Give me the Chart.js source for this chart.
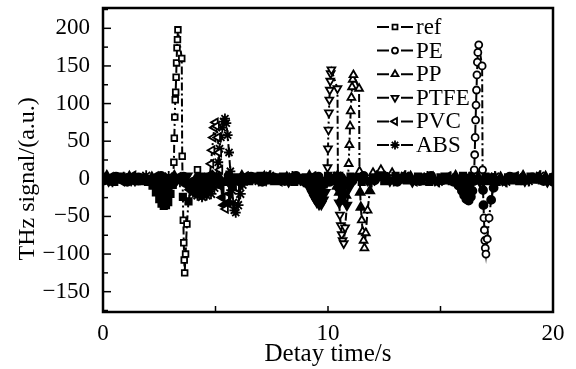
<!DOCTYPE html>
<html>
<head>
<meta charset="utf-8">
<script src="https://cdn.jsdelivr.net/npm/chart.js@4.4.0/dist/chart.umd.min.js"></script>
<style>
  html, body { margin: 0; padding: 0; background: #fff; }
  #wrap { width: 576px; height: 369px; }
</style>
</head>
<body>
<div id="wrap"><canvas id="thzChart" width="576" height="369"></canvas></div>
<script>
// series names, [delay time (s), THz signal (a.u.)]
const seriesNames = ['ref', 'PE', 'PP', 'PTFE', 'PVC', 'ABS'];

const refSignal = [
  [0,3],[0.5,-4],[1,2],[1.5,-3],[2,-4],[2.2,-9],[2.35,-18],[2.5,-27],[2.6,-33],[2.7,-36],[2.8,-35],[2.9,-31],[3,-20],[3.1,-8],
  [3.15,22],[3.17,54],[3.19,82],[3.21,105],[3.23,115],[3.25,135],[3.27,154],[3.29,174],[3.31,185],[3.33,198],
  [3.5,160],[3.52,30],[3.55,-24],[3.57,-55],[3.59,-85],[3.61,-108],[3.63,-125],[3.67,-100],[3.73,-60],[3.8,-30],[3.9,-12],[4.05,-4],[4.2,12],[4.35,3],[4.6,-3],
  [5,3],[5.5,-4],[6,2],[6.5,-3],[7,4],[7.5,-2],[8,3],[8.5,-4],[9,2],[9.5,-3],[10,4],[10.5,-2],[11,3],[11.5,-4],[12,2],[12.5,-3],
  [13,4],[13.5,-2],[14,3],[14.5,-4],[15,2],[15.5,-3],[16,4],[16.5,-2],[17,3],[17.5,-4],[18,2],[18.5,-3],[19,3],[19.5,-2],[20,2]
];
const peSignal = [
  [0.08,-2],[0.58,3],[1.08,-4],[1.58,2],[2.08,-3],[2.58,4],[3.08,-2],[3.58,3],[4.08,-4],[4.58,2],[5.08,-3],[5.58,4],[6.08,-2],[6.58,3],
  [7.08,-4],[7.58,2],[8.08,-3],[8.58,4],[9.08,-2],[9.58,3],[10.08,-4],[10.58,2],[11.08,-3],[11.58,4],[12.08,-2],[12.58,3],[13.08,-4],
  [13.58,2],[14.08,-3],[14.58,4],[15.08,-2],[15.58,-4],
  [15.8,-9],[15.95,-16],[16.05,-22],[16.15,-27],[16.25,-29],[16.35,-24],[16.42,-16],[16.48,-3],
  [16.5,12],[16.52,32],[16.54,55],[16.56,78],[16.58,98],[16.6,118],[16.62,138],[16.64,155],[16.66,168],[16.7,178],
  [16.85,150],[16.87,12],[16.89,-15],[16.91,-35],[16.93,-52],[16.95,-68],[16.97,-82],[16.99,-92],[17.02,-100],[17.08,-80],[17.16,-52],
  [17.25,-28],[17.36,-12],[17.5,-3],
  [18.08,3],[18.58,-2],[19.08,2],[19.58,-3],[20,2]
];
const ppSignal = [
  [0.17,4],[0.67,-2],[1.17,3],[1.67,-4],[2.17,2],[2.67,-3],[3.17,4],[3.67,-2],[4.17,3],[4.67,-4],[5.17,2],[5.67,-3],[6.17,4],[6.67,-2],
  [7.17,3],[7.67,-4],[8.17,2],[8.67,-3],[9.17,4],[9.67,-2],[10.17,-4],
  [10.4,-10],[10.5,-18],[10.6,-26],[10.7,-30],[10.8,-22],[10.88,-5],
  [10.92,20],[10.95,45],[10.98,70],[11.01,90],[11.04,108],[11.07,122],[11.1,132],[11.13,138],
  [11.38,120],[11.4,10],[11.43,-18],[11.46,-38],[11.5,-55],[11.54,-70],[11.58,-82],[11.62,-92],[11.68,-72],[11.76,-42],[11.86,-16],
  [12,8],[12.15,3],[12.35,12],[12.55,2],[12.85,8],[13.17,-2],
  [13.67,3],[14.17,-4],[14.67,2],[15.17,-3],[15.67,4],[16.17,-2],[16.67,3],[17.17,-4],[17.67,2],[18.17,-3],[18.67,4],[19.17,-2],[19.67,3],[20,-2]
];
const ptfeSignal = [
  [0.25,-3],[0.75,4],[1.25,-2],[1.75,3],[2.25,-4],[2.75,2],[3.25,-3],[3.75,4],[4.25,-2],[4.75,3],[5.25,-4],[5.75,2],[6.25,-3],[6.75,4],
  [7.25,-2],[7.75,3],[8.25,-4],[8.75,2],
  [9.1,-8],[9.2,-14],[9.3,-20],[9.4,-26],[9.5,-31],[9.6,-34],[9.7,-34],[9.8,-28],[9.88,-18],[9.95,-5],
  [9.98,15],[10,40],[10.02,65],[10.04,88],[10.06,105],[10.08,118],[10.1,130],[10.12,140],[10.15,145],
  [10.42,120],[10.44,5],[10.47,-15],[10.5,-32],[10.53,-48],[10.57,-62],[10.61,-74],[10.65,-82],[10.7,-86],[10.76,-65],[10.84,-35],
  [10.94,-12],[11.1,-3],
  [11.25,3],[11.75,-2],[12.25,4],[12.75,-3],[13.25,2],[13.75,-4],[14.25,3],[14.75,-2],[15.25,4],[15.75,-3],[16.25,2],[16.75,-4],
  [17.25,3],[17.75,-2],[18.25,4],[18.75,-3],[19.25,2],[19.75,-4]
];
const pvcSignal = [
  [0.33,2],[0.83,-3],[1.33,4],[1.83,-2],[2.33,3],[2.83,-4],[3.33,2],
  [3.7,-8],[3.9,-15],[4.1,-20],[4.3,-22],[4.5,-20],[4.65,-12],[4.75,5],[4.8,20],[4.85,38],[4.9,55],[4.95,68],[5,75],[5.05,70],
  [5.1,55],[5.15,35],[5.2,12],[5.25,-10],[5.3,-25],[5.38,-35],[5.45,-40],[5.55,-32],[5.65,-20],[5.8,-10],[6,-4],
  [6.33,3],[6.83,-2],[7.33,4],[7.83,-3],[8.33,2],[8.83,-4],[9.33,3],[9.83,-2],[10.33,4],[10.83,-3],[11.33,2],[11.83,-4],[12.33,3],
  [12.83,-2],[13.33,4],[13.83,-3],[14.33,2],[14.83,-4],[15.33,3],[15.83,-2],[16.33,4],[16.83,-3],[17.33,2],[17.83,-4],[18.33,3],
  [18.83,-2],[19.33,4],[19.83,-3]
];
const absSignal = [
  [0.42,-4],[0.92,2],[1.42,-3],[1.92,4],[2.42,-2],[2.92,3],[3.42,-4],
  [3.8,-10],[4,-18],[4.2,-22],[4.4,-24],[4.6,-22],[4.8,-20],[4.95,-12],[5.05,5],[5.12,22],[5.18,40],[5.24,55],[5.3,68],[5.36,76],
  [5.42,80],[5.48,74],[5.54,58],[5.6,35],[5.66,10],[5.72,-15],[5.78,-32],[5.84,-42],[5.9,-45],[6,-35],[6.1,-20],[6.2,-8],
  [6.42,2],[6.92,-3],[7.42,4],[7.92,-2],[8.42,3],[8.92,-4],[9.42,2],[9.92,-3],[10.42,4],[10.92,-2],[11.42,3],[11.92,-4],[12.42,2],
  [12.92,-3],[13.42,4],[13.92,-2],[14.42,3],[14.92,-4],[15.42,2],[15.92,-3],[16.42,4],[16.92,-2],[17.42,3],[17.92,-4],[18.42,2],
  [18.92,-3],[19.42,4],[19.92,-2]
];

const xTicks = [0, 10, 20];
const yTicks = [-150, -100, -50, 0, 50, 100, 150, 200];
const xTickMarks = [5, 10, 15];
const yTickMarks = [-175, -150, -125, -100, -75, -50, -25, 0, 25, 50, 75, 100, 125, 150, 175, 200, 225];

const allSignals = [refSignal, peSignal, ppSignal, ptfeSignal, pvcSignal, absSignal];
const markerStyles = ['rect', 'circle', 'triangle', 'triangle', 'triangle', 'star'];
const markerRotation = [0, 0, 0, 180, 270, 0];
const markerRadius = [4, 3.5, 4.5, 4.5, 4.5, 5];

const FONT = "'Liberation Serif', 'Times New Roman', serif";
Chart.defaults.font.family = FONT;
Chart.defaults.font.size = 23;
Chart.defaults.color = '#000';

// near the baseline the marks pile up into a solid black band
const nearBase = y => y > -40 && y < 8;

const datasets = seriesNames.map((name, i) => ({
  label: name,
  data: allSignals[i].map(p => ({ x: p[0], y: p[1] })),
  borderColor: '#000',
  borderWidth: 2,
  borderDash: [8, 3, 2, 3],
  pointStyle: markerStyles[i],
  rotation: markerRotation[i],
  pointRadius: c => (c.raw && nearBase(c.raw.y) ? markerRadius[i] + 0.5 : markerRadius[i]),
  pointBorderWidth: 1.8,
  pointBackgroundColor: c => (c.raw && nearBase(c.raw.y) ? '#000' : '#fff'),
  pointBorderColor: '#000',
  tension: 0,
  fill: 'origin',
  backgroundColor: 'rgba(0,0,0,0)',
  segment: {
    backgroundColor: c => (c.p0.parsed.y <= 0 && c.p1.parsed.y <= 0 &&
      nearBase(c.p0.parsed.y) && nearBase(c.p1.parsed.y) ? '#000' : undefined)
  }
}));

// frame, inward ticks, y title
const framePlugin = {
  id: 'frame',
  afterDraw(chart) {
    const ctx = chart.ctx;
    const a = chart.chartArea;
    const xs = chart.scales.x, ys = chart.scales.y;
    ctx.save();
    ctx.strokeStyle = '#000';
    ctx.lineWidth = 1.5;
    yTickMarks.forEach(v => {
      const y = ys.getPixelForValue(v);
      const len = v % 50 === 0 ? 8 : 5;
      ctx.beginPath();
      ctx.moveTo(a.left, y);
      ctx.lineTo(a.left + len, y);
      ctx.stroke();
    });
    xTickMarks.forEach(v => {
      const x = xs.getPixelForValue(v);
      ctx.beginPath();
      ctx.moveTo(x, a.bottom);
      ctx.lineTo(x, a.bottom - 6);
      ctx.stroke();
    });
    ctx.lineWidth = 2.5;
    ctx.strokeRect(a.left, a.top, a.right - a.left, a.bottom - a.top);

    ctx.translate(28, ys.getPixelForValue(0));
    ctx.rotate(-Math.PI / 2);
    ctx.fillStyle = '#000';
    ctx.font = '24px ' + FONT;
    ctx.textAlign = 'center';
    ctx.textBaseline = 'middle';
    ctx.fillText('THz signal/(a.u.)', 0, 0);
    ctx.restore();
  }
};

// legend inside plot, upper right
const legendPlugin = {
  id: 'innerLegend',
  afterDraw(chart) {
    const ctx = chart.ctx;
    const a = chart.chartArea;
    ctx.save();
    chart.data.datasets.forEach((ds, i) => {
      const y = a.top + 19 + i * 23.6;
      const x0 = a.left + 274;
      ctx.strokeStyle = '#000';
      ctx.lineWidth = 2;
      ctx.setLineDash([]);
      ctx.beginPath();
      ctx.moveTo(x0, y); ctx.lineTo(x0 + 12, y);
      ctx.moveTo(x0 + 24, y); ctx.lineTo(x0 + 36, y);
      ctx.stroke();
      ctx.fillStyle = '#fff';
      ctx.lineWidth = 1.8;
      Chart.helpers.drawPoint(ctx, {
        pointStyle: ds.pointStyle, radius: markerRadius[i] - 0.5, rotation: ds.rotation, borderWidth: 1.8
      }, x0 + 18, y);
      ctx.fillStyle = '#000';
      ctx.font = '23px ' + FONT;
      ctx.textAlign = 'left';
      ctx.textBaseline = 'middle';
      ctx.fillText(ds.label, x0 + 39, y + 1);
    });
    ctx.restore();
  }
};

const ctx = document.getElementById('thzChart').getContext('2d');
let thzChart = new Chart(ctx, {
  type: 'line',
  data: { datasets: datasets },
  options: {
    responsive: false,
    animation: false,
    devicePixelRatio: 1,
    layout: { padding: { top: 8, right: 23, bottom: 0, left: 0 } },
    plugins: { legend: { display: false }, tooltip: { enabled: false } },
    scales: {
      x: {
        type: 'linear',
        min: 0,
        max: 20,
        grid: { display: false },
        border: { display: false },
        ticks: { padding: 0, maxRotation: 0, autoSkip: false },
        afterBuildTicks: s => { s.ticks = xTicks.map(v => ({ value: v })); },
        afterFit: s => { s.height = 57; s.paddingLeft = 0; s.paddingRight = 0; },
        title: { display: true, text: 'Detay time/s', font: { size: 25 }, padding: { top: 0, bottom: 0 } }
      },
      y: {
        type: 'linear',
        min: -177,
        max: 227,
        grid: { display: false },
        border: { display: false },
        ticks: {
          padding: 5,
          callback: v => (v < 0 ? '\u2212' + Math.abs(v) : String(v))
        },
        afterBuildTicks: s => { s.ticks = yTicks.map(v => ({ value: v })); },
        afterFit: s => { s.width = 103; s.paddingTop = 0; s.paddingBottom = 0; }
      }
    }
  },
  plugins: [framePlugin, legendPlugin]
});
</script>
</body>
</html>
